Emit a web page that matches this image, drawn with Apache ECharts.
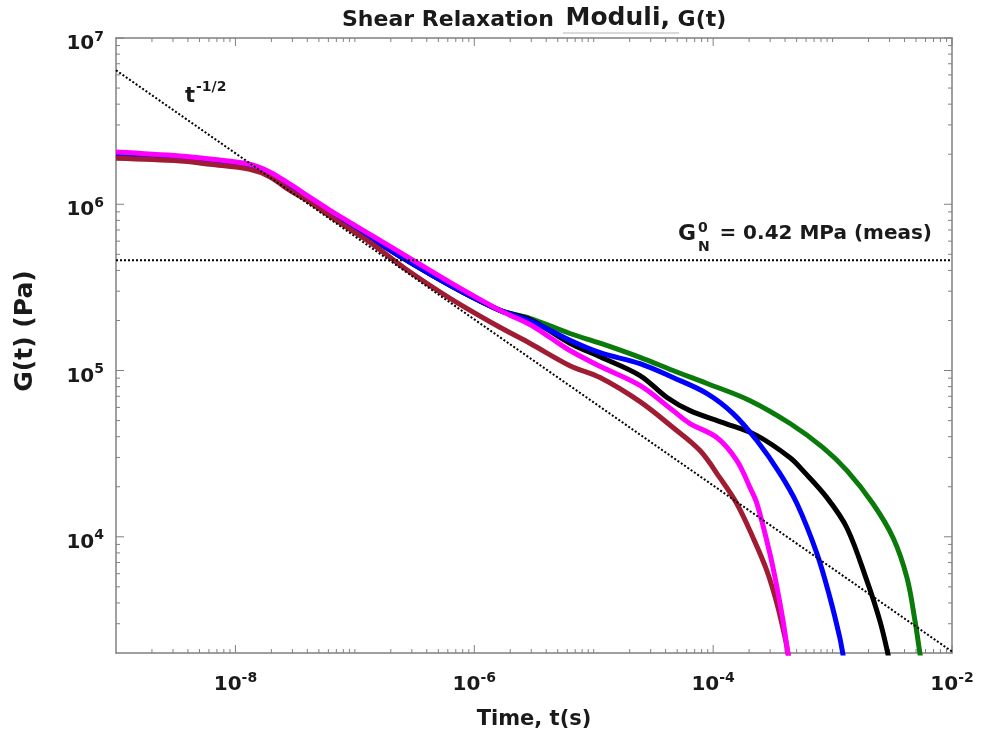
<!DOCTYPE html>
<html>
<head>
<meta charset="utf-8">
<script src="https://cdn.jsdelivr.net/npm/echarts@6/dist/echarts.min.js"></script>
<style>
html, body { margin: 0; padding: 0; background: #fff; }
#chart { width: 982px; height: 735px; }
</style>
</head>
<body>
<div id="chart"></div>
<script>
// G(t) curves, time in s, modulus in Pa
const greenTime = [1e-9, 3.44e-9, 6.12e-9, 1.32e-8, 1.95e-8, 2.86e-8, 4.21e-8, 6.19e-8, 1.34e-7, 2.39e-7, 6.27e-7, 1.64e-6, 2.92e-6, 6.32e-6, 1.13e-5, 2.44e-5, 4.61e-5, 8.89e-5, 2.04e-4, 4.41e-4, 8.32e-4, 1.32e-3, 2.18e-3, 3.21e-3, 4.20e-3, 4.90e-3, 5.40e-3, 5.61e-3];
const greenG = [1.97e6, 1.89e6, 1.82e6, 1.69e6, 1.52e6, 1.26e6, 1.07e6, 8.83e5, 6.32e5, 4.86e5, 3.25e5, 2.30e5, 2.06e5, 1.67e5, 1.46e5, 1.20e5, 1.00e5, 8.36e4, 6.59e4, 4.80e4, 3.44e4, 2.50e4, 1.58e4, 9.86e3, 5.66e3, 3.12e3, 1.97e3, 1.67e3];

const blackTime = [1e-9, 3.44e-9, 6.12e-9, 1.32e-8, 1.95e-8, 2.86e-8, 4.21e-8, 6.19e-8, 1.34e-7, 2.39e-7, 6.27e-7, 1.64e-6, 2.92e-6, 6.32e-6, 1.13e-5, 2.44e-5, 4.11e-5, 6.40e-5, 1.21e-4, 2.33e-4, 4.41e-4, 5.65e-4, 8.97e-4, 1.32e-3, 1.94e-3, 2.49e-3, 2.91e-3, 3.03e-3];
const blackG = [1.97e6, 1.89e6, 1.82e6, 1.69e6, 1.52e6, 1.26e6, 1.07e6, 8.83e5, 6.32e5, 4.86e5, 3.25e5, 2.30e5, 2.03e5, 1.46e5, 1.21e5, 9.33e4, 6.88e4, 5.74e4, 4.86e4, 4.06e4, 2.99e4, 2.50e4, 1.72e4, 1.13e4, 5.43e3, 3.12e3, 1.97e3, 1.67e3];

const blueTime = [1e-9, 3.44e-9, 6.12e-9, 1.32e-8, 1.95e-8, 2.86e-8, 4.21e-8, 6.19e-8, 1.34e-7, 2.39e-7, 6.27e-7, 1.64e-6, 2.92e-6, 6.32e-6, 1.13e-5, 2.44e-5, 4.61e-5, 8.89e-5, 1.47e-4, 2.33e-4, 3.63e-4, 5.04e-4, 7.41e-4, 9.51e-4, 1.15e-3, 1.22e-3, 1.27e-3];
const blueG = [1.97e6, 1.89e6, 1.82e6, 1.69e6, 1.52e6, 1.26e6, 1.07e6, 8.83e5, 6.32e5, 4.86e5, 3.25e5, 2.30e5, 2.00e5, 1.52e5, 1.28e5, 1.10e5, 9.08e4, 7.27e4, 5.51e4, 3.78e4, 2.40e4, 1.58e4, 7.90e3, 4.30e3, 2.47e3, 1.97e3, 1.67e3];

const redTime = [1e-9, 3.44e-9, 6.12e-9, 1.32e-8, 1.95e-8, 2.86e-8, 4.21e-8, 6.19e-8, 1.34e-7, 2.63e-7, 6.27e-7, 1.64e-6, 2.92e-6, 6.32e-6, 1.13e-5, 2.44e-5, 4.61e-5, 7.76e-5, 1.14e-4, 1.58e-4, 2.16e-4, 2.82e-4, 3.43e-4, 4.00e-4, 4.24e-4, 4.32e-4];
const redG = [1.89e6, 1.82e6, 1.74e6, 1.62e6, 1.46e6, 1.21e6, 1.03e6, 8.47e5, 5.90e5, 4.11e5, 2.72e5, 1.82e5, 1.46e5, 1.07e5, 9.08e4, 6.50e4, 4.54e4, 3.30e4, 2.26e4, 1.58e4, 9.86e3, 6.24e3, 3.94e3, 2.47e3, 1.97e3, 1.67e3];

const magentaTime = [1e-9, 3.44e-9, 6.12e-9, 1.32e-8, 1.95e-8, 2.86e-8, 4.21e-8, 6.19e-8, 1.34e-7, 2.39e-7, 6.27e-7, 1.64e-6, 2.92e-6, 4.31e-6, 6.32e-6, 1.13e-5, 2.44e-5, 4.61e-5, 6.40e-5, 1.08e-4, 1.58e-4, 2.04e-4, 2.33e-4, 2.99e-4, 3.43e-4, 3.85e-4, 4.24e-4, 4.41e-4];
const magentaG = [2.06e6, 1.95e6, 1.87e6, 1.74e6, 1.56e6, 1.32e6, 1.10e6, 9.20e5, 6.59e5, 5.14e5, 3.39e5, 2.30e5, 1.89e5, 1.58e5, 1.32e5, 1.06e5, 8.13e4, 5.74e4, 4.80e4, 3.94e4, 2.87e4, 1.97e4, 1.58e4, 7.90e3, 4.93e3, 3.12e3, 1.97e3, 1.67e3];

// reference lines
const slopeTime = [1e-9, 1e-2];
const slopeG = [6.4e6, 2040];
const plateauTime = [1e-9, 1e-2];
const plateauG = [4.6e5, 4.6e5];

// axes
const xMin = 1e-9, xMax = 1e-2;
const yMin = 2000, yMax = 1e7;
const xLabelExps = [-8, -6, -4, -2];
const yLabelExps = [4, 5, 6, 7];

const FONT = 'DejaVu Sans';
const TXT = '#1a1a1a';
const AX = '#808080';

const zip = (t, g) => t.map((v, i) => [v, g[i]]);

function powLabel(v, shown) {
    const e = Math.round(Math.log10(v));
    if (Math.abs(v / Math.pow(10, e) - 1) > 1e-6) return '';
    if (shown.indexOf(e) < 0) return '';
    return '{b|10}{s|' + e + '}';
}
const labelRich = {
    b: { fontFamily: FONT, fontWeight: 'bold', fontSize: 20, color: TXT, verticalAlign: 'bottom' },
    s: { fontFamily: FONT, fontWeight: 'bold', fontSize: 14, color: TXT, verticalAlign: 'bottom', padding: [0, 0, 10, 0] }
};

// tick positions: labelled decades are major, 1..9 x 10^e elsewhere are minor
function tickValues(lo, hi, vmin, vmax, majorExps) {
    let major = majorExps.map(e => Math.pow(10, e));
    let minor = [];
    for (let e = lo; e <= hi; e++) {
        for (let m = 1; m <= 9; m++) {
            const v = m * Math.pow(10, e);
            if (v <= vmin || v >= vmax) continue;
            if (m === 1 && majorExps.indexOf(e) >= 0) continue;
            minor.push(v);
        }
    }
    return { major: major, minor: minor };
}
const xTicks = tickValues(-9, -3, xMin, xMax, xLabelExps);
const yTicks = tickValues(3, 6, yMin, yMax, yLabelExps);

function tickLine(x1, y1, x2, y2) {
    return { type: 'line', shape: { x1: x1, y1: y1, x2: x2, y2: y2 }, style: { stroke: AX, lineWidth: 1 } };
}
function xTickSeries(values, len) {
    return {
        type: 'custom', silent: true, z: 1,
        data: values.map(v => [v, 1e4]),
        renderItem: function (params, api) {
            const cs = params.coordSys;
            const x = api.coord([api.value(0), 1e4])[0];
            const b = cs.y + cs.height;
            return { type: 'group', children: [tickLine(x, b, x, b - len), tickLine(x, cs.y, x, cs.y + len)] };
        }
    };
}
function yTickSeries(values, len) {
    return {
        type: 'custom', silent: true, z: 1,
        data: values.map(v => [1e-6, v]),
        renderItem: function (params, api) {
            const cs = params.coordSys;
            const y = api.coord([1e-6, api.value(1)])[1];
            const r = cs.x + cs.width;
            return { type: 'group', children: [tickLine(cs.x, y, cs.x + len, y), tickLine(r, y, r - len, y)] };
        }
    };
}

function curve(name, color, t, g) {
    return {
        name: name,
        type: 'line',
        data: zip(t, g),
        showSymbol: false,
        smooth: 0.35,
        lineStyle: { color: color, width: 5 },
        itemStyle: { color: color },
        silent: true,
        z: 2
    };
}
function dotted(t, g) {
    return {
        type: 'line',
        data: zip(t, g),
        showSymbol: false,
        lineStyle: { color: '#000', width: 2, type: [2, 2] },
        silent: true,
        z: 3
    };
}

const axisBase = {
    type: 'log',
    logBase: 10,
    axisLine: { show: true, lineStyle: { color: AX, width: 1.5 } },
    axisTick: { show: false },
    splitLine: { show: false },
    minorTick: { show: false }
};

var chartDom = document.getElementById('chart');
var myChart = echarts.init(chartDom);

var option = {
    animation: false,
    backgroundColor: '#fff',
    title: {
        text: '{a|Shear Relaxation }{b|Moduli,}{a| G(t)}',
        left: 337,
        top: 1,
        textStyle: {
            rich: {
                a: { fontFamily: FONT, fontWeight: 'bold', fontSize: 22, color: TXT, verticalAlign: 'bottom' },
                b: { fontFamily: FONT, fontWeight: 'bold', fontSize: 25, color: TXT, verticalAlign: 'bottom', padding: [0, 0, 0, 4] }
            }
        }
    },
    grid: { left: 116, right: 30, top: 38, bottom: 82 },
    xAxis: [
        Object.assign({}, axisBase, {
            min: xMin, max: xMax, position: 'bottom',
            axisLabel: { formatter: v => powLabel(v, xLabelExps), rich: labelRich, margin: 18 },
            name: 'Time, t(s)',
            nameLocation: 'middle',
            nameGap: 56,
            nameTextStyle: { fontFamily: FONT, fontWeight: 'bold', fontSize: 21, color: TXT }
        }),
        Object.assign({}, axisBase, {
            min: xMin, max: xMax, position: 'top',
            axisLabel: { show: false }
        })
    ],
    yAxis: [
        Object.assign({}, axisBase, {
            min: yMin, max: yMax, position: 'left',
            axisLabel: { formatter: v => powLabel(v, yLabelExps), rich: labelRich, margin: 12, padding: [8, 0, 0, 0] }
        }),
        Object.assign({}, axisBase, {
            min: yMin, max: yMax, position: 'right',
            axisLabel: { show: false }
        })
    ],
    series: [
        xTickSeries(xTicks.major, 8),
        xTickSeries(xTicks.minor, 4),
        yTickSeries(yTicks.major, 8),
        yTickSeries(yTicks.minor, 4),
        curve('green', '#0a7a0a', greenTime, greenG),
        curve('black', '#000000', blackTime, blackG),
        curve('blue', '#0000ff', blueTime, blueG),
        curve('darkred', '#a01c32', redTime, redG),
        curve('magenta', '#ff00ff', magentaTime, magentaG),
        dotted(slopeTime, slopeG),
        dotted(plateauTime, plateauG)
    ],
    graphic: [
        { type: 'line', shape: { x1: 563, y1: 33, x2: 679, y2: 33 }, style: { stroke: '#b4b4b4', lineWidth: 1 } },
        { type: 'text', x: 25, y: 331, rotation: Math.PI / 2, style: { text: 'G(t) (Pa)', font: 'bold 25px "DejaVu Sans"', fill: TXT, textAlign: 'center', textVerticalAlign: 'middle' } },
        { type: 'text', x: 185, y: 107, style: { text: 't', font: 'bold 21px "DejaVu Sans"', fill: TXT, textVerticalAlign: 'bottom' } },
        { type: 'text', x: 196, y: 80, style: { text: '-1/2', font: 'bold 14px "DejaVu Sans"', fill: TXT, textVerticalAlign: 'top' } },
        { type: 'text', x: 678, y: 245, style: { text: 'G', font: 'bold 22px "DejaVu Sans"', fill: TXT, textVerticalAlign: 'bottom' } },
        { type: 'text', x: 698, y: 221, style: { text: '0', font: 'bold 14px "DejaVu Sans"', fill: TXT, textVerticalAlign: 'top' } },
        { type: 'text', x: 698, y: 240, style: { text: 'N', font: 'bold 14px "DejaVu Sans"', fill: TXT, textVerticalAlign: 'top' } },
        { type: 'text', x: 932, y: 244, style: { text: '= 0.42 MPa (meas)', font: 'bold 20px "DejaVu Sans"', fill: TXT, textAlign: 'right', textVerticalAlign: 'bottom' } }
    ]
};

option && myChart.setOption(option);
</script>
</body>
</html>
